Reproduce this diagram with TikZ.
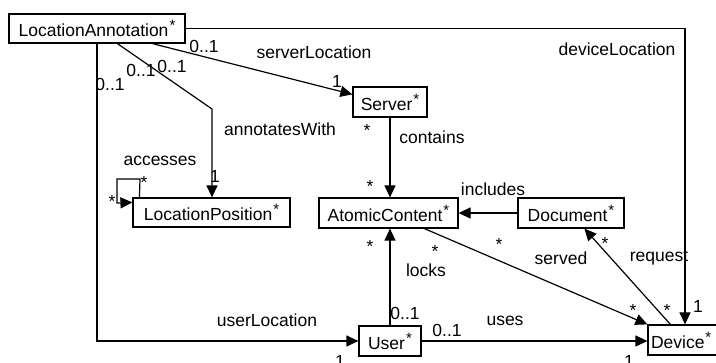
\documentclass[tikz,border=0pt]{standalone}
\usepackage{fontspec}
\setmainfont{Liberation Sans}
\usetikzlibrary{arrows.meta,calc}

% class-name multiplicity mark, raised like an exponent
\newcommand{\mstar}{\kern1pt\raisebox{6pt}{\fontsize{15}{15}\selectfont *}}

\begin{document}
\begin{tikzpicture}[x=1pt,y=-1pt,
  every node/.style={font=\fontsize{17.5}{20}\selectfont},
  cls/.style={draw, line width=1.2pt, inner sep=0pt, anchor=center, fill=white},
  lbl/.style={inner sep=0pt, anchor=center},
  arr/.style={line width=1.2pt, -{Triangle[length=12pt,width=11pt]}}]

\useasboundingbox (0,0) rectangle (716,363);
\fill[white] (0,0) rectangle (716,363);

% classes
\node[cls, minimum width=176pt, minimum height=29pt] (LA)  at (97,28.5)  {LocationAnnotation\mstar};
\node[cls, minimum width=74pt,  minimum height=30pt] (SRV) at (390,102)  {Server\mstar};
\node[cls, minimum width=157pt, minimum height=29pt] (LP)  at (211.5,212.5) {LocationPosition\mstar};
\node[cls, minimum width=139pt, minimum height=30pt] (AC)  at (388.5,213) {AtomicContent\mstar};
\node[cls, minimum width=106pt, minimum height=30pt] (DOC) at (571,213)  {Document\mstar};
\node[cls, minimum width=62pt,  minimum height=30pt] (USR) at (390,341)  {User\mstar};
\begin{scope}
  \clip (0,0) rectangle (716,363);
  \node[cls, minimum width=80pt, minimum height=30pt, text width=74pt, align=left] (DEV) at (688,340) {Device\mstar};
\end{scope}

% bend points and line ends
\coordinate (dlBend) at (685,28.5);
\coordinate (slStart) at ($(LA.south west)+(144,0)$);
\coordinate (slEnd) at ($(SRV.north west)+(0,8)$);
\coordinate (awStart) at ($(LA.south west)+(109,0)$);
\coordinate (awBend) at (212,109);
\coordinate (svStart) at ($(AC.south west)+(106,0)$);
\coordinate (rqStart) at ($(DEV.north west)+(23,0)$);
\coordinate (rqEnd) at ($(DOC.south west)+(67,0)$);
\coordinate (lpA) at ($(LP.north west)+(7,0)$);
\coordinate (lpB) at (140,179);
\coordinate (lpC) at (117,179);
\coordinate (lpD) at (117,203);
\coordinate (lpE) at ($(LP.north west)+(0,5)$);

% associations
\draw[arr] (LA.east) -- (dlBend) -- (dlBend |- DEV.north);
\draw[arr] (slStart) -- (slEnd);
\draw[arr] (awStart) -- (awBend) -- (awBend |- LP.north);
\draw[arr] (LA.south) |- (USR.west);
\draw[arr] (SRV.south) -- (SRV.south |- AC.north);
\draw[arr] (DOC.west) -- (AC.east);
\draw[arr] (USR.north) -- (USR.north |- AC.south);
\draw[arr] (USR.east) -- (USR.east -| DEV.west);
\draw[arr] (svStart) -- (DEV.north west);
\draw[arr] (rqStart) -- (rqEnd);
\draw[arr] (lpA) -- (lpB) -- (lpC) -- (lpD) -- (lpE);

% role names and multiplicities
\node[lbl] (m1)  at (204,46)  {0..1};
\node[lbl] (n1)  at (314,52)  {serverLocation};
\node[lbl] (m2)  at (337,81)  {1};
\node[lbl] (m3)  at (172,66)  {0..1};
\node[lbl] (m4)  at (141,70)  {0..1};
\node[lbl] (m5)  at (110,84)  {0..1};
\node[lbl] (n2)  at (617,49)  {deviceLocation};
\node[lbl] (n3)  at (280,129) {annotatesWith};
\node[lbl] (m6)  at (367,130) {*};
\node[lbl] (n4)  at (432,137) {contains};
\node[lbl] (n5)  at (160,161) {accesses};
\node[lbl] (m7)  at (215,176) {1};
\node[lbl] (m8)  at (144,182) {*};
\node[lbl] (m9)  at (112,201) {*};
\node[lbl] (m10) at (370,186) {*};
\node[lbl] (n6)  at (493,189) {includes};
\node[lbl] (m11) at (370,246) {*};
\node[lbl] (m12) at (435,251) {*};
\node[lbl] (n7)  at (426,270) {locks};
\node[lbl] (m13) at (499,244) {*};
\node[lbl] (n8)  at (561,258) {served};
\node[lbl] (m14) at (605,243) {*};
\node[lbl] (n9)  at (659,258) {request};
\node[lbl] (m15) at (405,313) {0..1};
\node[lbl] (m16) at (447,330) {0..1};
\node[lbl] (n10) at (505,321) {uses};
\node[lbl] (m17) at (633,310) {*};
\node[lbl] (m18) at (667,310) {*};
\node[lbl] (m19) at (698,306) {1};
\node[lbl] (n11) at (267,320) {userLocation};
\node[lbl] (m20) at (340,361) {1};
\node[lbl] (m21) at (629,361) {1};
\end{tikzpicture}
\end{document}
